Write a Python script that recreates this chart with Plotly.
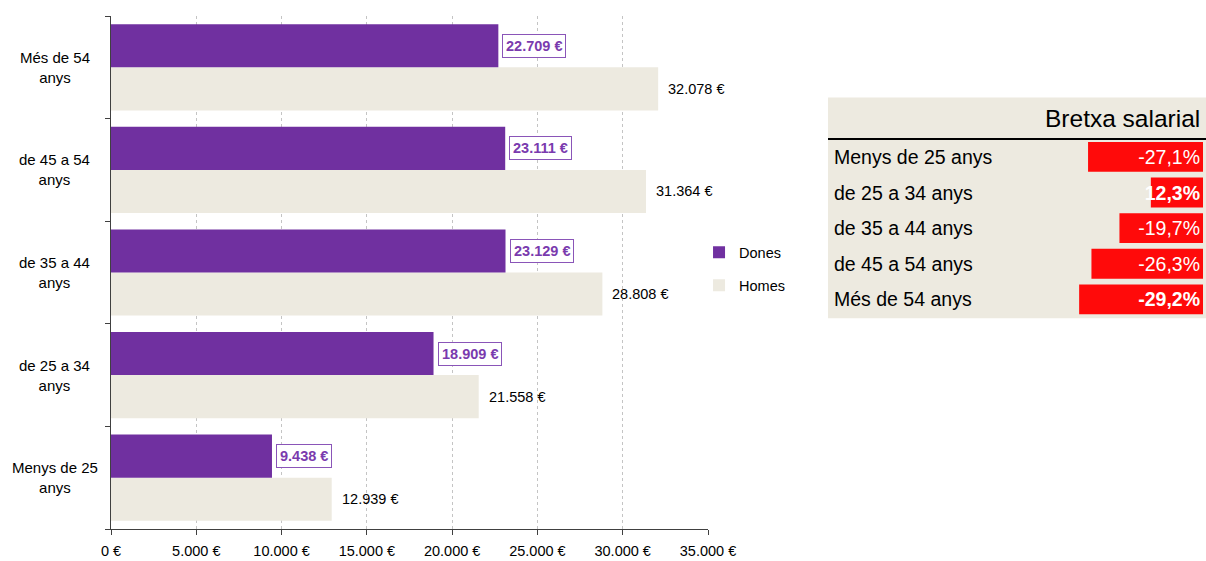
import plotly.graph_objects as go

# ---- data ----
categories = ["Menys de 25 anys", "de 25 a 34 anys", "de 35 a 44 anys", "de 45 a 54 anys", "Més de 54 anys"]
axis_labels = ["Menys de 25<br>anys", "de 25 a 34<br>anys", "de 35 a 44<br>anys", "de 45 a 54<br>anys", "Més de 54<br>anys"]
dones = [9438, 18909, 23129, 23111, 22709]
homes = [12939, 21558, 28808, 31364, 32078]
x_ticks = [0, 5000, 10000, 15000, 20000, 25000, 30000, 35000]

bretxa_rows = ["Menys de 25 anys", "de 25 a 34 anys", "de 35 a 44 anys", "de 45 a 54 anys", "Més de 54 anys"]
bretxa = [-27.1, -12.3, -19.7, -26.3, -29.2]
bretxa_text = ["-27,1%", "<b>12,3%</b>", "-19,7%", "-26,3%", "<b>-29,2%</b>"]
table_title = "Bretxa salarial"

FONT = "Liberation Sans, Arial, sans-serif"
PURPLE = "#7030A0"
BEIGE = "#EDEAE0"
RED = "#FF0A0A"


def eur(v):
    return f"{v:,}".replace(",", ".") + " €"


fig = go.Figure()
fig.add_trace(go.Bar(y=categories, x=homes, orientation="h", name="Homes",
                     marker=dict(color=BEIGE, line=dict(width=0)), legendrank=2,
                     legendgroup="h", hoverinfo="skip"))
fig.add_trace(go.Bar(y=categories, x=dones, orientation="h", name="Dones",
                     marker=dict(color=PURPLE, line=dict(width=0)), legendrank=1,
                     legendgroup="d", hoverinfo="skip"))

# table bars (right side)
fig.add_trace(go.Bar(y=bretxa_rows, x=[abs(v) for v in bretxa], orientation="h",
                     xaxis="x2", yaxis="y2", marker=dict(color=RED, line=dict(width=0)),
                     text=bretxa_text, textposition="inside", insidetextanchor="start",
                     constraintext="none",
                     textfont=dict(color="white", size=19.5, family=FONT),
                     showlegend=False, hoverinfo="skip", cliponaxis=False))

annotations = []
for i, (d, h) in enumerate(zip(dones, homes)):
    annotations.append(dict(x=d, y=i + 0.21, xref="x", yref="y", text=f"<b>{eur(d)}</b>",
                            showarrow=False, xanchor="left", yanchor="middle", xshift=4,
                            font=dict(color="#7A3AAE", size=14.5, family=FONT),
                            bordercolor="#8A55B8", borderwidth=1, borderpad=3, bgcolor="white"))
    annotations.append(dict(x=h, y=i - 0.21, xref="x", yref="y", text=eur(h),
                            showarrow=False, xanchor="left", yanchor="middle", xshift=8,
                            font=dict(color="black", size=14.5, family=FONT)))
    annotations.append(dict(x=-0.0515, y=i, xref="paper", yref="y", text=axis_labels[i],
                            showarrow=False, xanchor="center", yanchor="middle", align="center",
                            font=dict(color="black", size=15, family=FONT)))

for r in bretxa_rows:
    annotations.append(dict(x=0.6595, y=r, xref="paper", yref="y2", text=r, showarrow=False,
                            xanchor="left", yanchor="middle",
                            font=dict(color="black", size=19.5, family=FONT)))
annotations.append(dict(x=0.9985, y=0.80, xref="paper", yref="paper", text=table_title,
                        showarrow=False, xanchor="right", yanchor="middle",
                        font=dict(color="black", size=24.5, family=FONT)))

shapes = [
    dict(type="rect", xref="paper", yref="paper", x0=0.656, x1=1.01, y0=0.411, y1=0.841,
         fillcolor=BEIGE, line=dict(width=0), layer="below"),
    dict(type="line", xref="paper", yref="paper", x0=0.656, x1=1.01, y0=0.760, y1=0.760,
         line=dict(color="black", width=2)),
]

fig.update_layout(
    width=1206, height=561,
    margin=dict(l=111, r=2, t=16, b=32, autoexpand=False),
    paper_bgcolor="white", plot_bgcolor="white",
    barmode="group", bargap=0.16, bargroupgap=0,
    separators=",.",
    font=dict(family=FONT, size=14.5, color="black"),
    xaxis=dict(domain=[0, 0.5462], range=[0, 35000], tickvals=x_ticks,
               ticktext=[eur(v) for v in x_ticks], showgrid=True, gridcolor="#C4C4C4",
               griddash="3px,3px", gridwidth=1, showline=True, linecolor="#404040", linewidth=1,
               ticks="outside", ticklen=5, tickcolor="#404040", zeroline=False,
               ticklabelstandoff=4, automargin=False,
               tickfont=dict(size=14.5, family=FONT), fixedrange=True),
    yaxis=dict(domain=[0, 1], type="category", categoryorder="array", categoryarray=categories,
               showticklabels=False, tickson="boundaries", ticks="outside", ticklen=5,
               tickcolor="#404040", showline=True, linecolor="#404040", linewidth=1,
               showgrid=False, fixedrange=True, automargin=False),
    xaxis2=dict(domain=[0.656, 0.9991], range=[88.4, 0], anchor="y2", visible=False,
                fixedrange=True, automargin=False),
    yaxis2=dict(domain=[0.413, 0.760], type="category", categoryorder="array",
                categoryarray=bretxa_rows, autorange="reversed", anchor="x2", visible=False,
                fixedrange=True, automargin=False),
    legend=dict(x=0.538, y=0.507, xanchor="left", yanchor="middle", bgcolor="rgba(0,0,0,0)",
                font=dict(size=14.5, family=FONT), tracegroupgap=11, traceorder="grouped"),
    annotations=annotations,
    shapes=shapes,
)

fig.write_html("out.html", config={"displayModeBar": False},
               post_script="document.body.style.margin='0px';document.body.style.overflow='hidden';")
